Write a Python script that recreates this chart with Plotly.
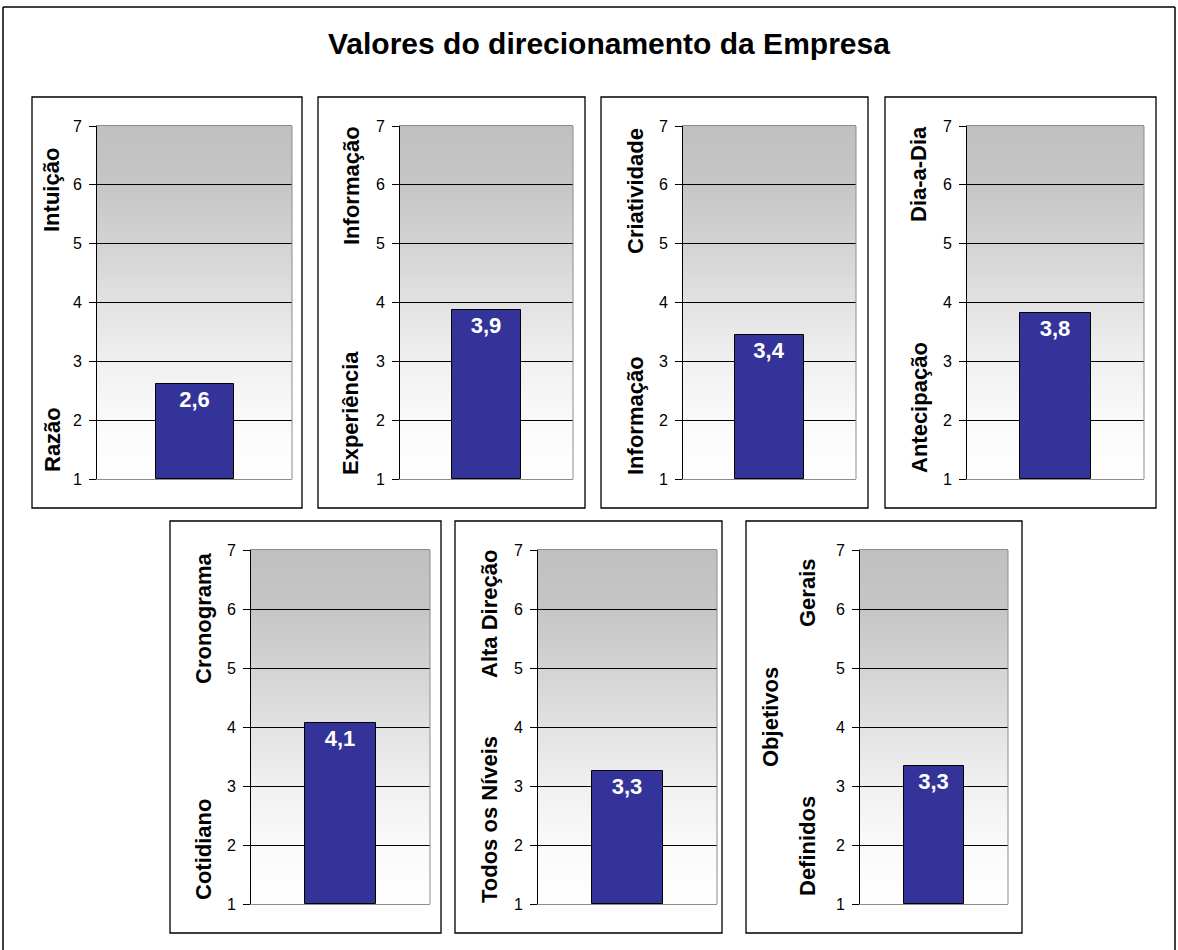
import base64
import struct
import zlib
import plotly.graph_objects as go

# ---------------- data ----------------
panel_values = [2.61, 3.87, 3.44, 3.82, 4.07, 3.26, 3.34]
top_labels = ["Intuição", "Informação", "Criatividade", "Dia-a-Dia",
              "Cronograma", "Alta Direção", "Gerais"]
bottom_labels = ["Razão", "Experiência", "Informação", "Antecipação",
                 "Cotidiano", "Todos os Níveis", "Definidos"]
middle_labels = ["", "", "", "", "", "", "Objetivos"]
y_ticks = [1, 2, 3, 4, 5, 6, 7]
title_text = "Valores do direcionamento da Empresa"

# ---------------- layout geometry (pixels) ----------------
W, H = 1178, 950
FONT = "Arial, Liberation Sans, sans-serif"


def px(x):
    return x / W


def py(y):
    return 1 - y / H


plot_boxes = [
    (97, 292, 126, 479), (400, 573, 126, 479), (683, 856, 126, 479), (967, 1144, 126, 479),
    (251, 430, 550, 904), (538, 717, 550, 904), (860, 1008, 550, 904),
]
panel_frames = [
    (32, 302, 97, 508), (318, 585, 97, 508), (601, 868, 97, 508), (885, 1156, 97, 508),
    (170, 441, 521, 933), (455, 722, 521, 933), (746, 1022, 521, 933),
]
label_pos = [
    (52, 190, 440), (351, 186, 413), (635, 191, 416), (919, 174, 408),
    (203, 618, 850), (489, 614, 820), (807, 593, 846),
]
middle_pos = [None] * 6 + [(770, 717)]

# ---------------- gradient background image (style only) ----------------
grad_stops = [(0.0, (0xc0, 0xc0, 0xc0)), (1/6, (0xc6, 0xc6, 0xc6)), (2/6, (0xd3, 0xd3, 0xd3)),
              (3/6, (0xe2, 0xe2, 0xe2)), (4/6, (0xf0, 0xf0, 0xf0)), (5/6, (0xfa, 0xfa, 0xfa)),
              (1.0, (0xff, 0xff, 0xff))]


def grad_color(f):
    for (f0, c0), (f1, c1) in zip(grad_stops[:-1], grad_stops[1:]):
        if f0 <= f <= f1:
            k = (f - f0) / (f1 - f0)
            return tuple(int(round(a + (b - a) * k)) for a, b in zip(c0, c1))
    return grad_stops[-1][1]


def make_png(rows, width=4):
    raw = b""
    for c in rows:
        raw += b"\x00" + bytes(c) * width

    def chunk(tag, data):
        return (struct.pack(">I", len(data)) + tag + data +
                struct.pack(">I", zlib.crc32(tag + data) & 0xffffffff))

    png = b"\x89PNG\r\n\x1a\n"
    png += chunk(b"IHDR", struct.pack(">IIBBBBB", width, len(rows), 8, 2, 0, 0, 0))
    png += chunk(b"IDAT", zlib.compress(raw, 9))
    png += chunk(b"IEND", b"")
    return "data:image/png;base64," + base64.b64encode(png).decode()


n_rows = 360
grad_uri = make_png([grad_color(i / (n_rows - 1)) for i in range(n_rows)])

fig = go.Figure()
shapes = []
annotations = []
images = []

for i, v in enumerate(panel_values):
    n = i + 1
    xa = "x" if n == 1 else f"x{n}"
    ya = "y" if n == 1 else f"y{n}"
    l, r, t, b = plot_boxes[i]

    fig.add_trace(go.Bar(
        x=[0], y=[v - 1], base=[1], width=[0.4],
        marker=dict(color="#333399", line=dict(color="#000000", width=1)),
        text=[v], texttemplate="%{text:.1f}", textposition="inside",
        insidetextanchor="end", textangle=0,
        textfont=dict(family=FONT, size=22, color="white", weight="bold"),
        hoverinfo="skip", showlegend=False, xaxis=xa, yaxis=ya))

    images.append(dict(source=grad_uri, xref=xa, yref=ya, x=-0.5, y=7,
                       sizex=1, sizey=6, sizing="stretch", xanchor="left",
                       yanchor="top", layer="below"))

    xkey = "xaxis" if n == 1 else f"xaxis{n}"
    ykey = "yaxis" if n == 1 else f"yaxis{n}"
    fig.layout[xkey] = dict(domain=[px(l), px(r)], range=[-0.5, 0.5], anchor=ya,
                            showgrid=False, zeroline=False, showticklabels=False,
                            ticks="", showline=True, linecolor="#8c8c8c", linewidth=1,
                            mirror=True, fixedrange=True)
    fig.layout[ykey] = dict(domain=[py(b), py(t)], range=[1, 7], anchor=xa,
                            tickvals=y_ticks, ticks="outside", ticklen=7,
                            tickcolor="#000000", showgrid=True, gridcolor="#000000",
                            gridwidth=1, zeroline=False,
                            showline=True, linecolor="#000000", linewidth=1,
                            tickfont=dict(family=FONT, size=16, color="#000000"),
                            ticklabelstandoff=4, fixedrange=True)

    shapes.append(dict(type="line", xref="paper", yref="paper",
                       x0=px(r), x1=px(r), y0=py(b), y1=py(t),
                       line=dict(color="#8c8c8c", width=1)))

    fl, fr, ft, fb = panel_frames[i]
    shapes.append(dict(type="rect", xref="paper", yref="paper",
                       x0=px(fl), x1=px(fr), y0=py(fb), y1=py(ft),
                       line=dict(color="#000000", width=1.3), fillcolor="rgba(0,0,0,0)"))

    lx, ty, by = label_pos[i]
    for txt, yy in ((top_labels[i], ty), (bottom_labels[i], by)):
        annotations.append(dict(text=txt, xref="paper", yref="paper",
                                x=px(lx), y=py(yy), xanchor="center", yanchor="middle",
                                textangle=-90, showarrow=False,
                                font=dict(family=FONT, size=22, color="#000000", weight="bold")))
    if middle_labels[i]:
        mx, my = middle_pos[i]
        annotations.append(dict(text=middle_labels[i], xref="paper", yref="paper",
                                x=px(mx), y=py(my), xanchor="center", yanchor="middle",
                                textangle=-90, showarrow=False,
                                font=dict(family=FONT, size=22, color="#000000", weight="bold")))

annotations.append(dict(text=title_text, xref="paper", yref="paper",
                        x=px(609), y=py(43), xanchor="center", yanchor="middle",
                        showarrow=False,
                        font=dict(family=FONT, size=30, color="#000000", weight="bold")))

# outer frame
shapes.append(dict(type="line", xref="paper", yref="paper", x0=px(3), x1=px(1175),
                   y0=py(7), y1=py(7), line=dict(color="#000000", width=1.5)))
shapes.append(dict(type="line", xref="paper", yref="paper", x0=px(3), x1=px(3),
                   y0=py(7), y1=0, line=dict(color="#000000", width=1.5)))
shapes.append(dict(type="line", xref="paper", yref="paper", x0=px(1175), x1=px(1175),
                   y0=py(7), y1=0, line=dict(color="#000000", width=1.5)))

fig.update_layout(
    width=W, height=H, margin=dict(l=0, r=0, t=0, b=0, pad=0, autoexpand=False),
    paper_bgcolor="white", plot_bgcolor="rgba(0,0,0,0)",
    separators=",.", showlegend=False, bargap=0,
    shapes=shapes, annotations=annotations, images=images,
    font=dict(family=FONT, color="#000000"),
)

fig.write_html("out.html", config={"responsive": False, "displayModeBar": False})
